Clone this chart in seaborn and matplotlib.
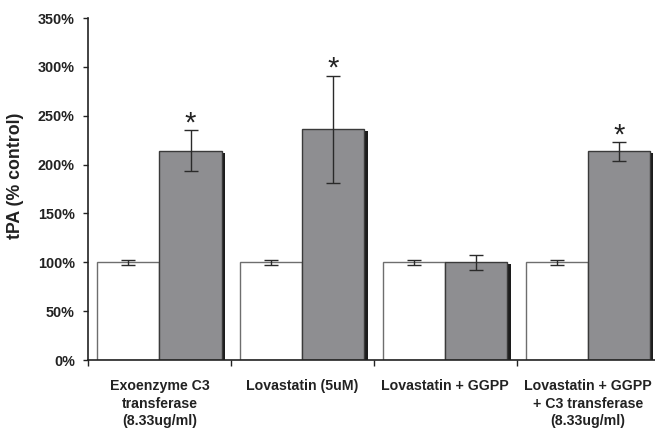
import matplotlib
matplotlib.use("Agg")
import matplotlib.pyplot as plt
import matplotlib.transforms as mtransforms
from matplotlib.patches import Rectangle
from matplotlib.ticker import PercentFormatter, FixedLocator
import seaborn as sns
import pandas as pd

# Conditions and measured tPA levels (% of control)
conditions = [
    "Exoenzyme C3\ntransferase\n(8.33ug/ml)",
    "Lovastatin (5uM)",
    "Lovastatin + GGPP",
    "Lovastatin + GGPP\n+ C3 transferase\n(8.33ug/ml)",
]
control_values = [100, 100, 100, 100]
control_errors = [2.8, 2.8, 2.8, 2.8]
treated_values = [214, 236, 100, 213.5]
treated_errors = [21, 55, 7.5, 9.5]
significant = [True, True, False, True]
y_ticks = [0, 50, 100, 150, 200, 250, 300, 350]

sns.set_theme(style="white")
plt.rcParams["font.family"] = ["Liberation Sans", "DejaVu Sans"]
plt.rcParams["font.weight"] = "bold"

df = pd.DataFrame({
    "condition": conditions * 2,
    "group": ["control"] * len(conditions) + ["treated"] * len(conditions),
    "value": control_values + treated_values,
})

fig = plt.figure(figsize=(6.55, 4.28), dpi=100)
ax = fig.add_axes([88 / 655, 1 - 360 / 428, 1 - 88 / 655, (360 - 18) / 428])

gray = "#8d8e92"
sns.barplot(
    data=df, x="condition", y="value", hue="group",
    palette={"control": "white", "treated": gray},
    width=0.87, gap=0, errorbar=None, legend=False,
    linewidth=1.0, ax=ax, zorder=3,
)

ctrl_bars, trt_bars = ax.containers[0], ax.containers[1]
for p in ctrl_bars:
    p.set_edgecolor("#6e6e6e")
for p in trt_bars:
    p.set_edgecolor("#3a3a3a")

# Drop shadow to the lower right of each bar
shadow_off = mtransforms.ScaledTranslation(3.2 / 100, -2 / 100, fig.dpi_scale_trans)
for bars in (ctrl_bars, trt_bars):
    for p in bars:
        sh = Rectangle((p.get_x(), p.get_y()), p.get_width(), p.get_height(),
                       transform=ax.transData + shadow_off,
                       facecolor="#1c1c1c", edgecolor="none", zorder=2)
        ax.add_patch(sh)

# Error bars
def centers(bars):
    return [p.get_x() + p.get_width() / 2 for p in bars]

err_kw = dict(fmt="none", ecolor="#2a2a2a", elinewidth=1.0, capsize=5,
              capthick=1.0, zorder=5)
ax.errorbar(centers(ctrl_bars), control_values, yerr=control_errors, **err_kw)
ax.errorbar(centers(trt_bars), treated_values, yerr=treated_errors, **err_kw)

# Significance markers
for x, v, e, s in zip(centers(trt_bars), treated_values, treated_errors, significant):
    if s:
        ax.annotate("*", xy=(x, v + e), xytext=(0, -1), textcoords="offset points",
                    ha="center", va="baseline", fontsize=21, fontweight="normal",
                    color="#222222", zorder=6)

ax.set_ylim(0, 350)
ax.set_xlim(-0.5, 3.468)
ax.yaxis.set_major_locator(FixedLocator(y_ticks))
ax.yaxis.set_major_formatter(PercentFormatter(decimals=0))

ax.set_xlabel("")
ax.set_ylabel("tPA (% control)", fontsize=12.8, fontweight="bold", color="#222222")
ax.yaxis.set_label_coords(-0.113, 0.54)

ax.xaxis.set_minor_locator(FixedLocator([-0.5, 0.5, 1.5, 2.5]))
ax.tick_params(axis="x", which="major", length=0, pad=14, labelsize=10.2,
               labelcolor="#222222")
ax.tick_params(axis="x", which="minor", length=4, width=1.0, color="#222222",
               direction="out", bottom=True)
ax.tick_params(axis="y", which="major", length=3.5, width=1.0, color="#222222",
               direction="out", left=True, pad=6, labelsize=10.4,
               labelcolor="#222222")
for lbl in ax.get_xticklabels():
    lbl.set_fontweight("bold")
    lbl.set_linespacing(1.3)
for lbl in ax.get_yticklabels():
    lbl.set_fontweight("bold")

sns.despine(ax=ax, top=True, right=True)
for side in ("left", "bottom"):
    ax.spines[side].set_color("#222222")
    ax.spines[side].set_linewidth(1.2)
    ax.spines[side].set_zorder(6)

fig.savefig("out.png", dpi=100, facecolor="white")
